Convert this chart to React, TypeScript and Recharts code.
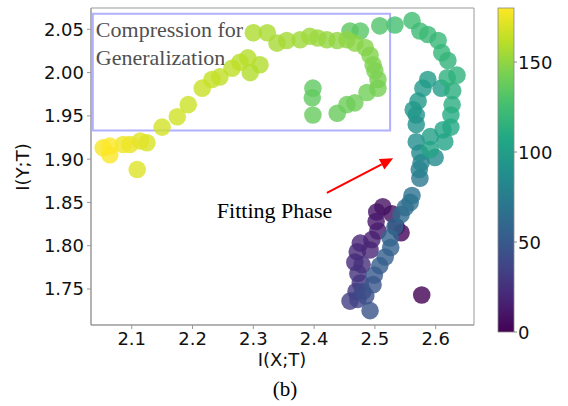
import React from 'react';
import { ScatterChart, Scatter, XAxis, YAxis, ReferenceArea, ReferenceLine, ReferenceDot } from 'recharts';

// information plane trajectory, one point per epoch
const epochs = [
  0, 2, 4, 6, 8, 10, 12, 14, 16, 18, 19, 20, 22, 24, 26, 28, 30, 33, 36, 40, 43, 46, 48, 50, 52, 54, 56, 58, 60, 62, 64,
  66, 68, 72, 76, 80, 84, 86, 88, 90, 92, 94, 96, 97, 98, 100, 101, 103, 105, 106, 108, 110, 112, 113, 114, 115, 116,
  118, 119, 120, 122, 124, 126, 130, 132, 134, 135, 136, 137, 138, 139, 140, 141, 142, 143, 144, 145, 146, 147, 148,
  149, 150, 151, 152, 153, 154, 155, 156, 157, 158, 159, 159, 160, 161, 162, 163, 164, 165, 166, 167, 168, 170, 171,
  172, 174, 176, 178, 179, 180,
];
const ixt = [
  2.577, 2.543, 2.535, 2.528, 2.513, 2.503, 2.502, 2.505, 2.495, 2.476, 2.492, 2.471, 2.467, 2.479, 2.472, 2.476, 2.469,
  2.459, 2.472, 2.48, 2.485, 2.492, 2.497, 2.499, 2.508, 2.517, 2.526, 2.525, 2.533, 2.543, 2.55, 2.558, 2.561,
  2.574, 2.573, 2.576, 2.599, 2.574, 2.568, 2.568, 2.568, 2.563, 2.571, 2.579, 2.587, 2.609, 2.591, 2.615, 2.591,
  2.612, 2.625, 2.625, 2.627, 2.628, 2.619, 2.635, 2.62, 2.61, 2.604, 2.587, 2.574, 2.561, 2.533, 2.508, 2.476,
  2.459, 2.398, 2.397, 2.398, 2.438, 2.454, 2.467, 2.487, 2.505, 2.505, 2.5, 2.497, 2.492, 2.484, 2.467, 2.454,
  2.438, 2.421, 2.406, 2.393, 2.377, 2.355, 2.339, 2.323, 2.3, 2.311, 2.295, 2.291, 2.278, 2.265, 2.245, 2.232,
  2.216, 2.193, 2.175, 2.15, 2.125, 2.109, 2.114, 2.097, 2.086, 2.053, 2.064, 2.064,
];
const iyt = [
  1.743, 1.815, 1.822, 1.837, 1.845, 1.839, 1.828, 1.817, 1.807, 1.803, 1.795, 1.793, 1.781, 1.778, 1.768, 1.757, 1.747,
  1.736, 1.738, 1.747, 1.742, 1.725, 1.755, 1.766, 1.777, 1.787, 1.798, 1.809, 1.822, 1.836, 1.844, 1.85, 1.858,
  1.878, 1.888, 1.896, 1.902, 1.907, 1.92, 1.94, 1.951, 1.957, 1.967, 1.982, 1.992, 1.982, 1.926, 1.92, 1.911,
  1.934, 1.937, 1.951, 1.963, 1.979, 1.994, 1.997, 2.014, 2.023, 2.037, 2.044, 2.048, 2.06, 2.055, 2.054, 2.048,
  2.048, 1.982, 1.971, 1.951, 1.953, 1.963, 1.965, 1.977, 1.982, 1.992, 2.002, 2.009, 2.02, 2.029, 2.034, 2.038,
  2.037, 2.038, 2.04, 2.042, 2.038, 2.037, 2.034, 2.046, 2.046, 2.009, 2.0, 2.017, 2.012, 2.005, 1.995, 1.992,
  1.982, 1.963, 1.949, 1.937, 1.919, 1.888, 1.921, 1.917, 1.917, 1.913, 1.905, 1.915,
];

const xTicks = [2.1, 2.2, 2.3, 2.4, 2.5, 2.6];
const yTicks = [1.75, 1.8, 1.85, 1.9, 1.95, 2.0, 2.05];
const cbTicks = [0, 50, 100, 150];

const X_MIN = 2.033;
const X_MAX = 2.663;
const Y_MIN = 1.7084;
const Y_MAX = 2.0746;
const EPOCH_MAX = 180;

// annotation anchors (data coords)
const boxX = [2.036, 2.525];
const boxY = [1.933, 2.068];
const arrowFrom = { x: 2.421, y: 1.861 };
const arrowTo = { x: 2.53, y: 1.901 };

const VIRIDIS = ['#440154', '#482475', '#414487', '#355f8d', '#2a788e', '#21918c', '#22a884', '#44bf70', '#7ad151', '#bddf26', '#fde725'];

const hex = (h: string) => [1, 3, 5].map((i) => parseInt(h.slice(i, i + 2), 16));
function viridis(v: number) {
  const t = Math.max(0, Math.min(1, v / EPOCH_MAX)) * (VIRIDIS.length - 1);
  const i = Math.min(Math.floor(t), VIRIDIS.length - 2);
  const f = t - i;
  const a = hex(VIRIDIS[i]);
  const b = hex(VIRIDIS[i + 1]);
  const c = a.map((av, k) => Math.round(av + (b[k] - av) * f));
  return `rgb(${c.join(',')})`;
}

const data = epochs.map((e, i) => ({ x: ixt[i], y: iyt[i], e }));

const SANS = 'DejaVu Sans, sans-serif';
const SERIF = 'Liberation Serif, serif';

const CB_TOP = 8;
const CB_H = 324;
const CB_X = 498;

const Arrow = (p: any) => {
  const { x1, y1, x2, y2 } = p;
  const ang = Math.atan2(y2 - y1, x2 - x1);
  const L = 13, W = 6;
  const bx = x2 - L * Math.cos(ang), by = y2 - L * Math.sin(ang);
  const nx = -Math.sin(ang) * W, ny = Math.cos(ang) * W;
  return (
    <g>
      <line x1={x1} y1={y1} x2={bx} y2={by} stroke="#ff0000" strokeWidth={2} />
      <polygon points={`${x2},${y2} ${bx + nx},${by + ny} ${bx - nx},${by - ny}`} fill="#ff0000" />
    </g>
  );
};

export default function App() {
  return (
    <div style={{ position: 'fixed', left: 0, top: 0, width: 568, height: 406, background: '#fff' }}>
      <ScatterChart width={568} height={406} margin={{ top: 8, right: 94, bottom: 0, left: 0 }}>
        <XAxis
          dataKey="x" type="number" domain={[X_MIN, X_MAX]} ticks={xTicks} allowDataOverflow
          tickFormatter={(v: number) => v.toFixed(1)} height={81} tickSize={4} tickMargin={3}
          stroke="#999" tick={{ fontSize: 18, fill: '#111', fontFamily: SANS }}
        />
        <YAxis
          dataKey="y" type="number" domain={[Y_MIN, Y_MAX]} ticks={yTicks} allowDataOverflow
          tickFormatter={(v: number) => v.toFixed(2)} width={91} tickSize={4} tickMargin={3}
          stroke="#999" tick={{ fontSize: 18, fill: '#111', fontFamily: SANS }}
        />
        <ReferenceArea x1={X_MIN} x2={X_MAX} y1={Y_MIN} y2={Y_MAX} fill="none" stroke="#999" ifOverflow="visible" />
        <ReferenceArea x1={boxX[0]} x2={boxX[1]} y1={boxY[0]} y2={boxY[1]} fill="none" stroke="#b0b0ff" strokeWidth={2} ifOverflow="visible" />
        <ReferenceDot x={2.041} y={2.041} r={0} ifOverflow="visible"
          shape={(p: any) => (
            <text x={p.cx} y={p.cy} fontFamily={SERIF} fontSize={22} fill="#505050">Compression for</text>
          )} />
        <ReferenceDot x={2.041} y={2.009} r={0} ifOverflow="visible"
          shape={(p: any) => (
            <text x={p.cx} y={p.cy} fontFamily={SERIF} fontSize={22} fill="#505050">Generalization</text>
          )} />
        <Scatter
          data={data} isAnimationActive={false}
          shape={(p: any) => <circle cx={p.cx} cy={p.cy} r={8.8} fill={viridis(p.payload.e)} fillOpacity={0.8} />}
        />
        <ReferenceDot x={2.24} y={1.832} r={0} ifOverflow="visible"
          shape={(p: any) => (
            <text x={p.cx} y={p.cy} fontFamily={SERIF} fontSize={22} fill="#000">Fitting Phase</text>
          )} />
        <ReferenceLine segment={[arrowFrom, arrowTo]} ifOverflow="visible" shape={Arrow} />
      </ScatterChart>
      <svg width={568} height={406} style={{ position: 'absolute', left: 0, top: 0, pointerEvents: 'none' }}>
        <defs>
          <linearGradient id="cb" x1="0" y1="1" x2="0" y2="0">
            {VIRIDIS.map((c, i) => (
              <stop key={i} offset={`${(i / (VIRIDIS.length - 1)) * 100}%`} stopColor={c} />
            ))}
          </linearGradient>
        </defs>
        <text x={282} y={366} textAnchor="middle" fontFamily={SANS} fontSize={18} fill="#111">I(X;T)</text>
        <text x={22} y={167} textAnchor="middle" dominantBaseline="central" transform="rotate(-90 22 167)"
          fontFamily={SANS} fontSize={18} fill="#111">I(Y;T)</text>
        <text x={285} y={396} textAnchor="middle" fontFamily={SERIF} fontSize={21} fill="#000">(b)</text>
        <rect x={CB_X} y={CB_TOP} width={16} height={CB_H} fill="url(#cb)" stroke="#888" strokeWidth={0.8} />
        {cbTicks.map((v) => {
          const y = CB_TOP + CB_H * (1 - v / EPOCH_MAX);
          return (
            <g key={v}>
              <line x1={CB_X + 16} x2={CB_X + 19} y1={y} y2={y} stroke="#888" />
              <text x={CB_X + 20} y={y} dominantBaseline="central" fontFamily={SANS} fontSize={18} fill="#111">{v}</text>
            </g>
          );
        })}
      </svg>
    </div>
  );
}
